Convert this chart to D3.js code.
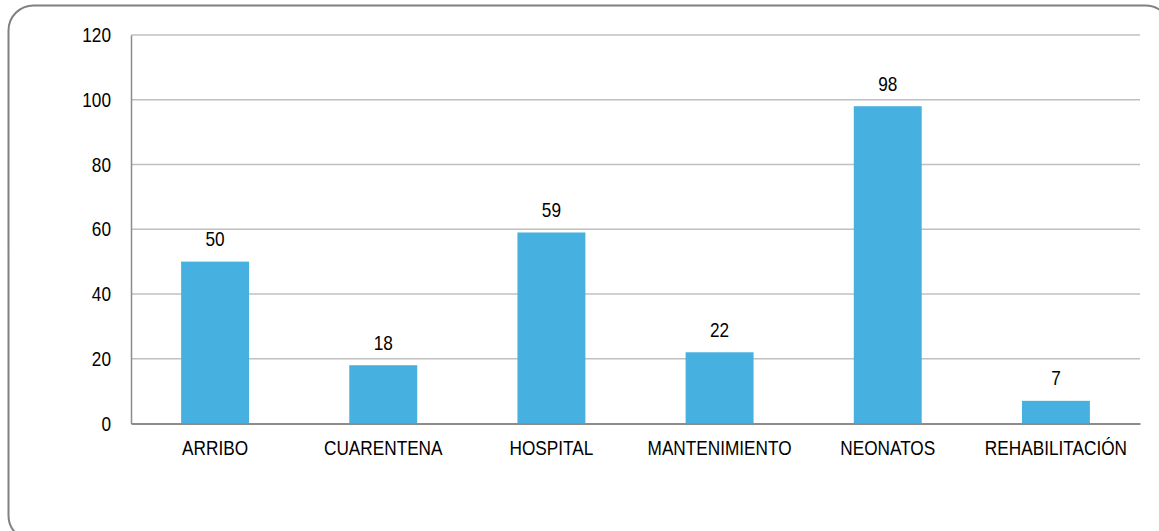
<!DOCTYPE html>
<html>
<head>
<meta charset="utf-8">
<script src="https://cdn.jsdelivr.net/npm/d3@7"></script>
<style>
  html, body { margin: 0; padding: 0; background: #fff; overflow: hidden; }
  svg { display: block; }
  text { font-family: "Liberation Sans", Arial, sans-serif; fill: #000; }
</style>
</head>
<body>
<svg id="svg" width="1159" height="531"></svg>
<script>
const categories = ["ARRIBO", "CUARENTENA", "HOSPITAL", "MANTENIMIENTO", "NEONATOS", "REHABILITACIÓN"];
const values = [50, 18, 59, 22, 98, 7];
const yTicks = [0, 20, 40, 60, 80, 100, 120];

const width = 1159;
const height = 531;
const margin = { top: 35, right: 19, bottom: 107.5, left: 131 };
const squeeze = 0.82; // the original labels use a narrow face

const svg = d3.select("#svg");

// rounded frame, runs off the right and bottom edges
svg.append("rect")
  .attr("x", 8.5)
  .attr("y", 5.5)
  .attr("width", 1162)
  .attr("height", 535)
  .attr("rx", 25)
  .attr("fill", "none")
  .attr("stroke", "#808080")
  .attr("stroke-width", 2);

const xScale = d3.scaleBand()
  .domain(categories)
  .range([margin.left, width - margin.right])
  .paddingInner(0.596)
  .paddingOuter(0.298);

const yScale = d3.scaleLinear()
  .domain([0, 120])
  .range([height - margin.bottom, margin.top]);

// gridlines
svg.append("g")
  .selectAll("line")
  .data(yTicks.filter(d => d > 0))
  .join("line")
  .attr("x1", margin.left)
  .attr("x2", width - margin.right)
  .attr("y1", d => yScale(d))
  .attr("y2", d => yScale(d))
  .attr("stroke", "#c0c0c0")
  .attr("stroke-width", 1.5);

// bars
svg.append("g")
  .selectAll("rect")
  .data(values)
  .join("rect")
  .attr("x", (d, i) => xScale(categories[i]))
  .attr("y", d => yScale(d))
  .attr("width", xScale.bandwidth())
  .attr("height", d => yScale(0) - yScale(d))
  .attr("fill", "#46b0e1");

// value labels
svg.append("g")
  .selectAll("text")
  .data(values)
  .join("text")
  .attr("transform", (d, i) => `translate(${xScale(categories[i]) + xScale.bandwidth() / 2},${yScale(d) - 15.5}) scale(${squeeze},1)`)
  .attr("text-anchor", "middle")
  .attr("font-size", 21)
  .text(d => d);

// y axis
const yAxis = svg.append("g")
  .attr("transform", `translate(${margin.left},0)`)
  .call(d3.axisLeft(yScale).tickValues(yTicks).tickSize(0).tickPadding(20 / squeeze));
yAxis.select(".domain").attr("stroke", "#8c8c8c").attr("stroke-width", 1.5);
yAxis.selectAll("text")
  .attr("font-size", 21)
  .attr("font-family", null)
  .attr("transform", `scale(${squeeze},1)`);

// x axis
const xAxis = svg.append("g")
  .attr("transform", `translate(0,${yScale(0)})`)
  .call(d3.axisBottom(xScale).tickSize(0).tickPadding(17));
xAxis.select(".domain").attr("stroke", "#8c8c8c").attr("stroke-width", 2);
xAxis.selectAll("text")
  .attr("font-size", 21)
  .attr("font-family", null)
  .attr("transform", `scale(${squeeze},1)`);
</script>
</body>
</html>
